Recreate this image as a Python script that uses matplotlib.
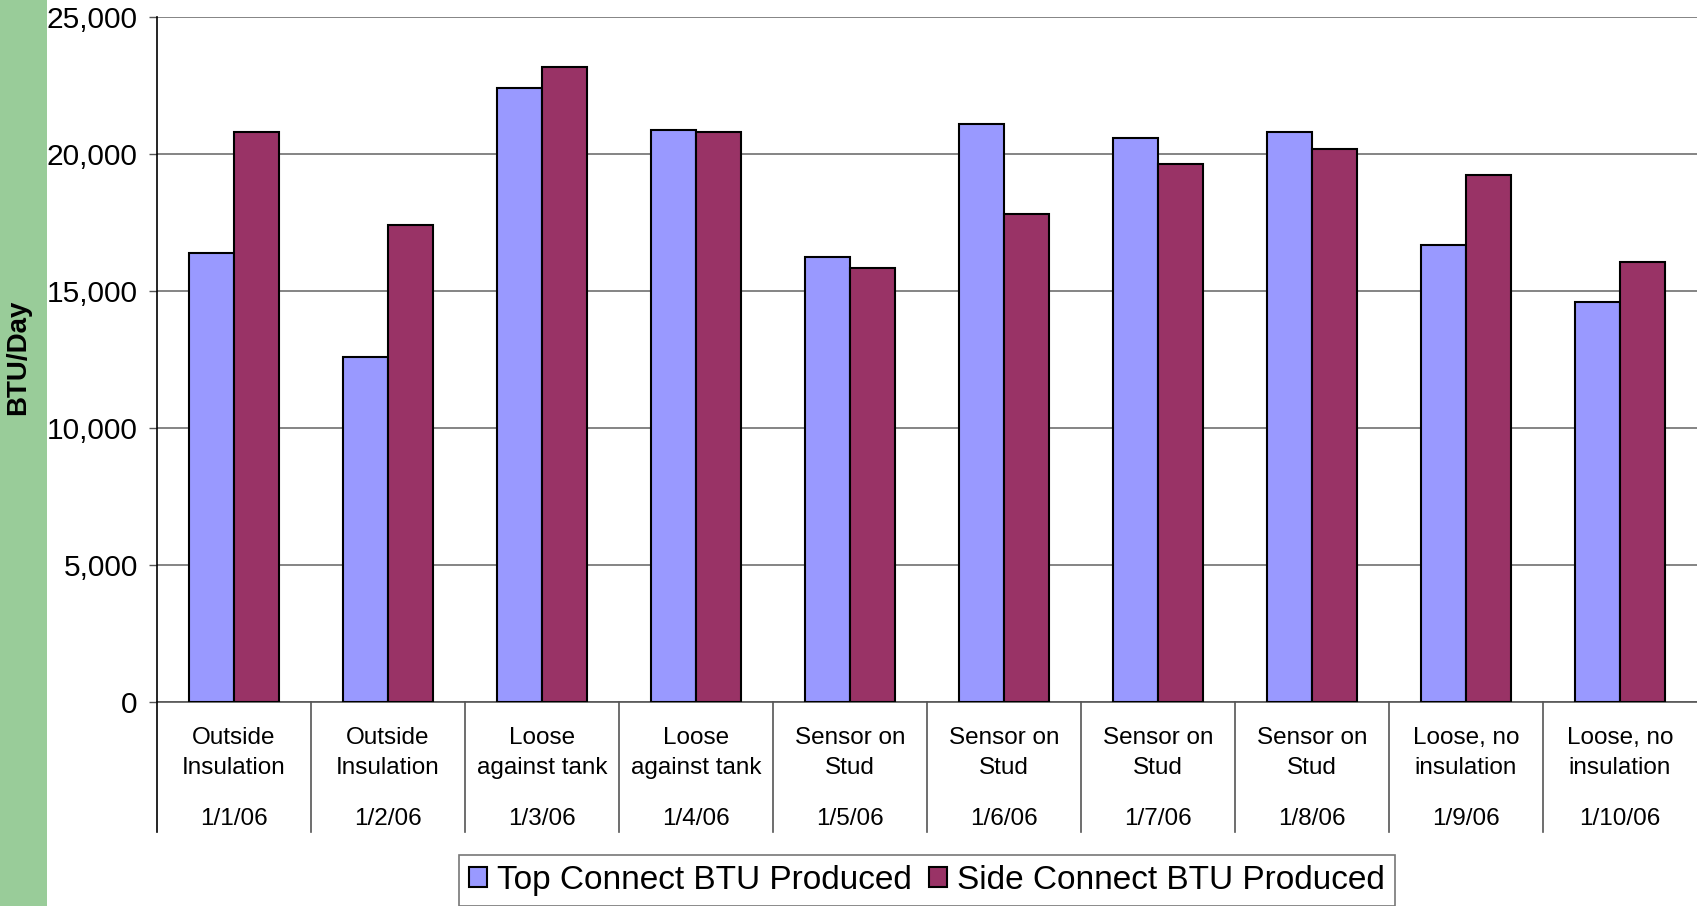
import matplotlib
matplotlib.use("Agg")
import matplotlib.pyplot as plt
from matplotlib.patches import Rectangle
import numpy as np

plt.rcParams['font.family'] = ['Liberation Sans', 'DejaVu Sans']

locations = ["Outside\nInsulation", "Outside\nInsulation", "Loose\nagainst tank", "Loose\nagainst tank",
             "Sensor on\nStud", "Sensor on\nStud", "Sensor on\nStud", "Sensor on\nStud",
             "Loose, no\ninsulation", "Loose, no\ninsulation"]
dates = ["1/1/06", "1/2/06", "1/3/06", "1/4/06", "1/5/06", "1/6/06", "1/7/06", "1/8/06", "1/9/06", "1/10/06"]
top_connect = [16400, 12600, 22400, 20900, 16250, 21100, 20600, 20800, 16700, 14600]
side_connect = [20800, 17400, 23200, 20800, 15850, 17800, 19650, 20200, 19250, 16050]
series_names = ["Top Connect BTU Produced", "Side Connect BTU Produced"]
yticks = [0, 5000, 10000, 15000, 20000, 25000]

c_top = "#9999FF"
c_side = "#993366"

fig = plt.figure(figsize=(16.97, 9.06), dpi=100)
fig.patches.append(Rectangle((0, 0), 0.0277, 1, transform=fig.transFigure,
                             facecolor="#99CC99", edgecolor="none", zorder=0))
ax = fig.add_axes([0.0925, 0.2255, 0.9075, 0.7554])

x = np.arange(len(dates))
w = 0.29
ax.bar(x - w / 2, top_connect, w, color=c_top, edgecolor="black", linewidth=1.5,
       label=series_names[0], zorder=3)
ax.bar(x + w / 2, side_connect, w, color=c_side, edgecolor="black", linewidth=1.5,
       label=series_names[1], zorder=3)

ax.set_xlim(-0.5, len(dates) - 0.5)
ax.set_ylim(0, 25000)
ax.set_yticks(yticks)
ax.set_yticklabels([f"{v:,}" for v in yticks], fontsize=21.5)
ax.tick_params(axis="y", direction="out", length=5.8, width=1, color="#555555", pad=8)
ax.set_xticks([])
ax.yaxis.grid(True, color="#6f6f6f", linewidth=1.2, zorder=0)
ax.set_axisbelow(True)
for s in ["top", "right", "left"]:
    ax.spines[s].set_visible(False)
ax.spines["bottom"].set_color("#555555")
ax.spines["bottom"].set_linewidth(1.2)

trans = ax.get_xaxis_transform()
ax.plot([-0.5, -0.5], [-0.19, 1.0], color="black", linewidth=1.2, transform=trans, clip_on=False, zorder=4)
for i in range(1, len(dates)):
    ax.plot([i - 0.5, i - 0.5], [-0.19, 0], color="#555555", linewidth=1.2, transform=trans, clip_on=False)

for i in range(len(dates)):
    ax.text(x[i], -0.075, locations[i], ha="center", va="center", fontsize=17.5,
            linespacing=1.5, transform=trans)
    ax.text(x[i], -0.171, dates[i], ha="center", va="center", fontsize=17.5, transform=trans)

fig.text(0.0106, 0.606, "BTU/Day", rotation=90, ha="center", va="center",
         fontsize=20, fontweight="bold")

leg = ax.legend(loc="center", bbox_to_anchor=(0.5, -0.261), ncol=2, fontsize=24,
                frameon=True, fancybox=False, shadow=False, handlelength=0.55,
                handleheight=0.55, handletextpad=0.3, columnspacing=0.5,
                borderpad=0.3, borderaxespad=0)
leg.get_frame().set_edgecolor("#555555")
leg.get_frame().set_linewidth(1.2)

fig.savefig("out.png", dpi=100)
